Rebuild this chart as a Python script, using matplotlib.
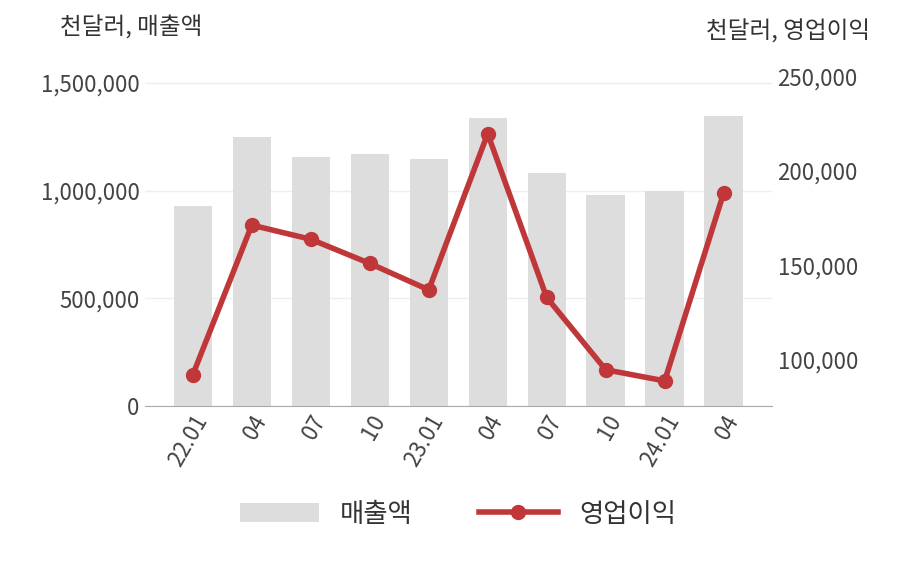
import matplotlib.pyplot as plt
import numpy as np

plt.rcParams['font.family'] = ['Noto Sans CJK KR', 'DejaVu Sans']

labels = ['22.01', '04', '07', '10', '23.01', '04', '07', '10', '24.01', '04']
sales = [930000, 1251000, 1158000, 1172000, 1149000, 1340000, 1084000, 981000, 1000000, 1349000]
profit = [92000, 171300, 163800, 151000, 137000, 219700, 133000, 94700, 88800, 188300]

fig = plt.figure(figsize=(9.08, 5.8), dpi=100)
ax = fig.add_axes([145/908, 1 - 406/580, 627/908, 338/580])
x = np.arange(len(labels))
ax.bar(x, sales, width=0.65, color='#dddddd', label='매출액', zorder=2)
ax.set_ylim(0, 1570000)
ax.set_xlim(-0.81, 9.82)
ax.set_yticks([0, 500000, 1000000, 1500000])
ax.set_yticklabels(['0', '500,000', '1,000,000', '1,500,000'])
ax.grid(axis='y', color='#eeeeee', linewidth=1, zorder=0)
for s in ['top', 'right', 'left']:
    ax.spines[s].set_visible(False)
ax.spines['bottom'].set_color('#aaaaaa')
ax.tick_params(axis='y', length=0, labelsize=16, labelcolor='#444444', pad=4)
ax.tick_params(axis='x', length=0, labelsize=16, labelcolor='#444444')
ax.set_xticks(x)
ax.set_xticklabels(labels, rotation=60, ha='right', rotation_mode='anchor')

ax2 = ax.twinx()
ax2.plot(x, profit, color='#c0373a', linewidth=4, marker='o', markersize=10, label='영업이익', zorder=3)
ax2.set_ylim(75500, 254500)
ax2.set_yticks([100000, 150000, 200000, 250000])
ax2.set_yticklabels(['100,000', '150,000', '200,000', '250,000'])
for s in ['top', 'right', 'left', 'bottom']:
    ax2.spines[s].set_visible(False)
ax2.tick_params(axis='y', length=0, labelsize=16, labelcolor='#444444', pad=4)

fig.text(60/908, 1 - 28/580, '천달러, 매출액', fontsize=17, color='#333333', va='center')
fig.text(870/908, 1 - 32/580, '천달러, 영업이익', fontsize=17, color='#333333', va='center', ha='right')

h1, l1 = ax.get_legend_handles_labels()
h2, l2 = ax2.get_legend_handles_labels()
fig.legend(h1 + h2, l1 + l2, loc='center', bbox_to_anchor=(458/908, 1 - 514/580), ncol=2,
           frameon=False, fontsize=19, handlelength=3, columnspacing=2.5, labelcolor='#333333')

fig.savefig('out.png', dpi=100)
